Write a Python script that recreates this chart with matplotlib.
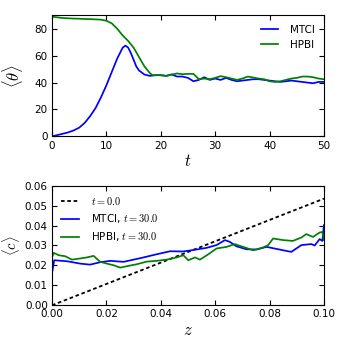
import matplotlib
matplotlib.use("Agg")
import matplotlib.pyplot as plt
from matplotlib.ticker import FormatStrFormatter

# ---- data: mean angle vs time ----
t_mtci = [0, 1, 2, 3, 4, 5, 6, 7, 8, 9, 10, 11, 12, 13, 13.5, 14, 14.5, 15, 15.5, 16, 17, 18, 19, 20, 21, 22, 23,
          24, 25, 26, 27, 28, 29, 30, 31, 32, 33, 34, 35, 36, 37, 38, 39, 40, 41, 42, 43, 44, 45, 46, 47, 48, 49, 50]
theta_mtci = [0, 1.0, 2.0, 3.0, 4.5, 6.5, 10, 15, 21, 29, 38, 48, 58, 66, 67.5, 66, 62, 57, 52, 49, 46, 45, 45.5, 45.5,
              45, 46, 44.5, 44.5, 43.5, 41, 42, 44, 42, 43, 42, 43.5, 42, 41, 41.5, 42, 42.5, 42.5, 42, 41.5, 41,
              40.5, 41, 41.5, 41, 40.5, 40, 39.5, 40.5, 40.5]
t_hpbi = [0, 1, 2, 3, 4, 5, 6, 7, 8, 9, 10, 11, 12, 13, 14, 15, 16, 17, 18, 18.5, 19, 20, 21, 22, 23, 24, 25, 26,
          27, 28, 29, 30, 31, 32, 33, 34, 35, 36, 37, 38, 39, 40, 41, 42, 43, 44, 45, 46, 47, 48, 49, 50]
theta_hpbi = [89, 88.5, 88, 87.8, 87.6, 87.5, 87.3, 87.2, 87, 86.8, 86, 84, 80, 75, 71, 66, 59, 52, 47, 45.5, 45.5,
              45.5, 45, 46, 46.8, 46.2, 46.5, 46.5, 42.5, 43, 42.5, 43.5, 44.8, 44, 43, 42, 43, 44.5, 43.8, 43,
              42.5, 41, 40.5, 41, 42, 43, 43.5, 44.5, 44.5, 44, 43, 42.5]

# ---- data: concentration profile vs z ----
z_init = [0.0, 0.1]
c_init = [0.0, 0.0535]
z_mtci = [0.0, 0.0008, 0.0055, 0.0104, 0.014, 0.0177, 0.0214, 0.0263, 0.030, 0.0336, 0.0385, 0.0434, 0.0483,
          0.0532, 0.0568, 0.0605, 0.0636, 0.0654, 0.0678, 0.0715, 0.0752, 0.0789, 0.0825, 0.085, 0.088, 0.0917,
          0.0954, 0.0966, 0.0984, 0.0994, 0.1]
c_mtci = [0.0159, 0.0226, 0.0221, 0.0209, 0.0204, 0.0216, 0.0223, 0.0218, 0.0229, 0.0240, 0.0256, 0.0271,
          0.0270, 0.0280, 0.0288, 0.0302, 0.0327, 0.0318, 0.0296, 0.0281, 0.0280, 0.0293, 0.0283, 0.0276,
          0.0268, 0.0302, 0.0307, 0.0300, 0.0332, 0.0323, 0.0402]
z_hpbi = [0.0, 0.0006, 0.0025, 0.0049, 0.0073, 0.0104, 0.0128, 0.0153, 0.0177, 0.0202, 0.0226, 0.0251, 0.0275,
          0.0312, 0.0348, 0.0385, 0.0422, 0.0458, 0.0483, 0.0501, 0.0526, 0.0544, 0.0575, 0.0605, 0.0642,
          0.0672, 0.0703, 0.074, 0.0776, 0.0795, 0.0813, 0.085, 0.0886, 0.0917, 0.0935, 0.096, 0.0984, 0.0994, 0.1]
c_hpbi = [0.0240, 0.0263, 0.0251, 0.0246, 0.0229, 0.0235, 0.0240, 0.0248, 0.0218, 0.0209, 0.0201, 0.0189,
          0.0196, 0.0206, 0.0219, 0.0223, 0.0229, 0.0240, 0.0251, 0.0226, 0.0240, 0.0229, 0.0256, 0.0285,
          0.0293, 0.0307, 0.0293, 0.0276, 0.0290, 0.0302, 0.0335, 0.0327, 0.0323, 0.0340, 0.0357, 0.0343,
          0.0365, 0.0368, 0.0327]

plt.rcParams.update({
    "font.family": "DejaVu Sans",
    "font.size": 7.5,
    "mathtext.fontset": "cm",
    "xtick.direction": "in",
    "ytick.direction": "in",
    "xtick.top": True,
    "ytick.right": True,
    "xtick.major.size": 3.5,
    "ytick.major.size": 3.5,
    "xtick.major.pad": 3,
    "ytick.major.pad": 3,
    "axes.linewidth": 0.8,
})

fig = plt.figure(figsize=(3.41, 3.41), dpi=100)
ax1 = fig.add_axes([0.1525, 0.600, 0.7975, 0.355])
ax2 = fig.add_axes([0.1525, 0.1047, 0.7975, 0.3508])

lw = 1.25
ax1.plot(t_mtci, theta_mtci, color="b", lw=lw, label="MTCI")
ax1.plot(t_hpbi, theta_hpbi, color="g", lw=lw, label="HPBI")
ax1.set_xlim(0, 50)
ax1.set_ylim(0, 90)
ax1.set_xticks([0, 10, 20, 30, 40, 50])
ax1.set_yticks([0, 20, 40, 60, 80])
ax1.set_xlabel(r"$t$", fontsize=12, labelpad=1)
ax1.set_ylabel(r"$\langle\theta\rangle$", fontsize=12)
ax1.yaxis.set_label_coords(-0.10, 0.5)
ax1.legend(loc="upper right", frameon=False, fontsize=7.5, handlelength=1.7, handletextpad=1.1)

ax2.plot(z_init, c_init, color="k", lw=1.3, linestyle=(0, (2, 1.5)), label=r"$t=0.0$")
ax2.plot(z_mtci, c_mtci, color="b", lw=lw, label=r"MTCI, $t=30.0$")
ax2.plot(z_hpbi, c_hpbi, color="g", lw=lw, label=r"HPBI, $t=30.0$")
ax2.set_xlim(0, 0.1)
ax2.set_ylim(0, 0.06)
ax2.set_xticks([0, 0.02, 0.04, 0.06, 0.08, 0.10])
ax2.set_yticks([0, 0.01, 0.02, 0.03, 0.04, 0.05, 0.06])
ax2.xaxis.set_major_formatter(FormatStrFormatter("%.2f"))
ax2.yaxis.set_major_formatter(FormatStrFormatter("%.2f"))
ax2.set_xlabel(r"$z$", fontsize=12, labelpad=1)
ax2.set_ylabel(r"$\langle c\rangle$", fontsize=10.5)
ax2.yaxis.set_label_coords(-0.112, 0.5)
ax2.legend(loc="upper left", frameon=False, fontsize=7.5, handlelength=1.7, handletextpad=1.1)

fig.savefig("out.png", dpi=100, facecolor="white")
